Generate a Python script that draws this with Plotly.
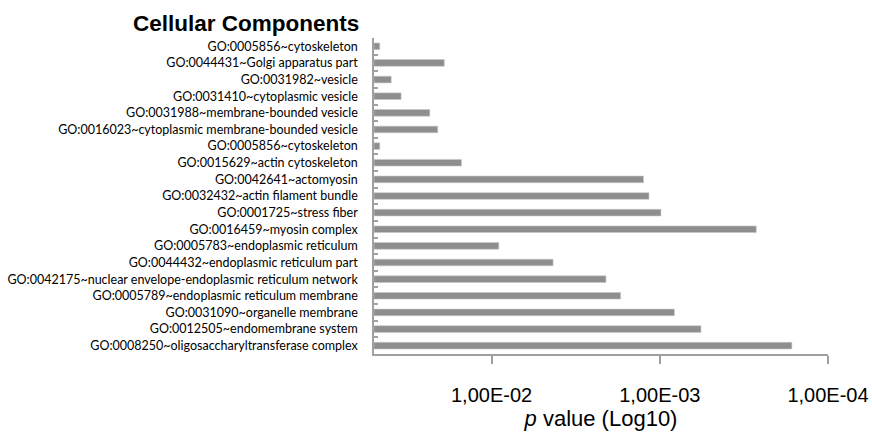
import math
import plotly.graph_objects as go

categories = [
    "GO:0005856~cytoskeleton",
    "GO:0044431~Golgi apparatus part",
    "GO:0031982~vesicle",
    "GO:0031410~cytoplasmic vesicle",
    "GO:0031988~membrane-bounded vesicle",
    "GO:0016023~cytoplasmic membrane-bounded vesicle",
    "GO:0005856~cytoskeleton",
    "GO:0015629~actin cytoskeleton",
    "GO:0042641~actomyosin",
    "GO:0032432~actin filament bundle",
    "GO:0001725~stress fiber",
    "GO:0016459~myosin complex",
    "GO:0005783~endoplasmic reticulum",
    "GO:0044432~endoplasmic reticulum part",
    "GO:0042175~nuclear envelope-endoplasmic reticulum network",
    "GO:0005789~endoplasmic reticulum membrane",
    "GO:0031090~organelle membrane",
    "GO:0012505~endomembrane system",
    "GO:0008250~oligosaccharyltransferase complex",
]
p_values = [
    0.0462, 0.0191, 0.0395, 0.0345, 0.0233, 0.0209, 0.0462, 0.0151,
    0.00125, 0.00116, 0.000984, 0.000267, 0.00906, 0.00431, 0.00209,
    0.00171, 0.000819, 0.000569, 0.000164,
]
tick_vals = [1e-2, 1e-3, 1e-4]
tick_text = ["1,00E-02", "1,00E-03", "1,00E-04"]

# make duplicate category names unique (invisible suffix)
seen = {}
y_labels = []
for c in categories:
    n = seen.get(c, 0)
    y_labels.append(c + "\u200b" * n)
    seen[c] = n + 1

AXIS_MIN = 0.05
AXIS_MAX = 1e-4

# bars start at the axis minimum and end at the p value
bar_len = [p - AXIS_MIN for p in p_values]

fig = go.Figure(go.Bar(
    x=bar_len,
    y=y_labels,
    base=AXIS_MIN,
    orientation="h",
    width=0.4,
    marker=dict(color="#8e8e8e", line=dict(color="#c8c8c8", width=0.6)),
    hovertext=[f"{p:.2e}" for p in p_values],
))

fig.update_layout(
    width=872, height=444,
    margin=dict(l=374, r=44, t=38, b=90, autoexpand=False),
    plot_bgcolor="white", paper_bgcolor="white",
    showlegend=False,
    title=dict(
        text="<b>Cellular Components</b>",
        font=dict(family="Liberation Sans, Arial", size=22.5, color="black"),
        xref="container", yref="container",
        x=133 / 872, xanchor="left",
        y=1 - 23 / 444, yanchor="middle",
    ),
)

fig.update_xaxes(
    type="log",
    range=[math.log10(AXIS_MIN), math.log10(AXIS_MAX)],
    tickvals=tick_vals, ticktext=tick_text,
    ticks="outside", ticklen=8, tickwidth=1.5, tickcolor="#a0a0a0",
    showline=True, linecolor="#a0a0a0", linewidth=1.5,
    showgrid=False, zeroline=False,
    tickfont=dict(family="Liberation Sans, Arial", size=20, color="black"),
    ticklabelstandoff=14,
    title=dict(text="<i>p</i> value (Log10)",
               font=dict(family="Liberation Sans, Arial", size=22, color="black"),
               standoff=2),
    automargin=False,
)

fig.update_yaxes(
    type="category",
    categoryorder="array", categoryarray=y_labels,
    range=[len(y_labels) - 0.5, -0.5],
    tickson="boundaries",
    ticks="inside", ticklen=4, tickwidth=1.5, tickcolor="#a0a0a0",
    showline=True, linecolor="#a0a0a0", linewidth=1.5,
    showgrid=False, zeroline=False,
    tickfont=dict(family="Lato, Carlito, Calibri", size=12.5, color="black"),
    ticklabelstandoff=12,
    automargin=False,
)

fig.write_html("out.html")
